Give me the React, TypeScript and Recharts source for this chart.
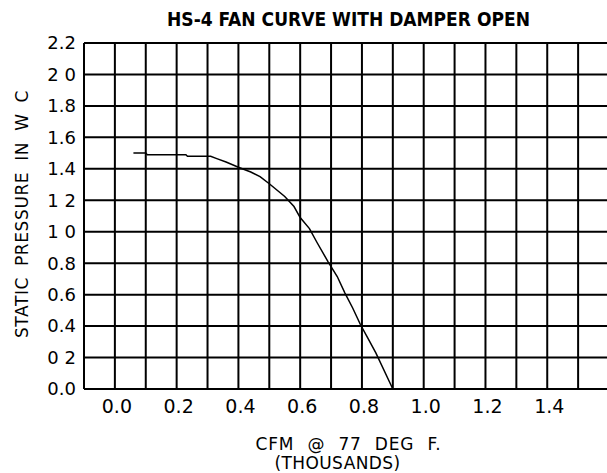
import { LineChart, Line, XAxis, YAxis, CartesianGrid } from 'recharts'

// fan curve (CFM in thousands vs. static pressure, in. W.C.)
const cfm = [
  0.06, 0.1, 0.105, 0.23, 0.235, 0.31, 0.33, 0.36, 0.4, 0.44, 0.47, 0.5, 0.55, 0.58, 0.6, 0.63,
  0.655, 0.69, 0.72, 0.745, 0.77, 0.795, 0.82, 0.845, 0.9,
]
const pressure = [
  1.5, 1.5, 1.49, 1.49, 1.48, 1.48, 1.465, 1.443, 1.41, 1.38, 1.35, 1.305, 1.224, 1.16, 1.09, 1.02,
  0.93, 0.81, 0.715, 0.61, 0.515, 0.41, 0.32, 0.23, 0.0,
]

const xTicks = [-0.1, 0, 0.1, 0.2, 0.3, 0.4, 0.5, 0.6, 0.7, 0.8, 0.9, 1.0, 1.1, 1.2, 1.3, 1.4, 1.5, 1.6]
const xLabels = ['0.0', '0.2', '0.4', '0.6', '0.8', '1.0', '1.2', '1.4']
const yTicks = [0, 0.2, 0.4, 0.6, 0.8, 1.0, 1.2, 1.4, 1.6, 1.8, 2.0, 2.2]
// the drawing lost some of its decimal points, kept as shown
const yLabels = ['0.0', '0 2', '0.4', '0.6', '0.8', '1 0', '1 2', '1.4', '1.6', '1.8', '2 0', '2.2']

const data = cfm.map((x, i) => ({ x, p: pressure[i] }))

const font = '"DejaVu Sans", sans-serif'

export default function App() {
  return (
    <div
      style={{
        position: 'fixed',
        top: 0,
        left: 0,
        width: 607,
        height: 473,
        overflow: 'hidden',
        background: '#fff',
        fontFamily: font,
      }}
    >
      <div
        style={{
          position: 'absolute',
          top: 8,
          left: 0,
          width: 697,
          textAlign: 'center',
          fontFamily: '"DejaVu Sans Condensed", "DejaVu Sans", sans-serif',
          fontWeight: 'bold',
          fontSize: 19,
          whiteSpace: 'nowrap',
        }}
      >
        HS-4 FAN CURVE WITH DAMPER OPEN
      </div>

      <LineChart width={640} height={473} data={data} margin={{ top: 43, right: 31, bottom: 0, left: 0 }}>
        <CartesianGrid stroke="#000" strokeWidth={2} />
        <XAxis
          type="number"
          dataKey="x"
          domain={[-0.1, 1.6]}
          ticks={xTicks}
          interval={0}
          allowDataOverflow
          height={84}
          axisLine={false}
          tickLine={false}
          tickSize={0}
          tickMargin={11}
          tick={{ fill: '#000', fontSize: 19, fontFamily: font, dx: 2 }}
          tickFormatter={(v: number) => {
            const s = v.toFixed(1)
            return xLabels.includes(s) && v >= 0 ? s : ''
          }}
        />
        <YAxis
          type="number"
          domain={[0, 2.2]}
          ticks={yTicks}
          interval={0}
          width={84}
          axisLine={false}
          tickLine={false}
          tickSize={0}
          tickMargin={8}
          tick={{ fill: '#000', fontSize: 18, fontFamily: font }}
          tickFormatter={(v: number) => yLabels[Math.round(v * 5)]}
        />
        <Line
          type="linear"
          dataKey="p"
          stroke="#000"
          strokeWidth={1.5}
          dot={false}
          isAnimationActive={false}
        />
      </LineChart>

      <div
        style={{
          position: 'absolute',
          left: 22,
          top: 214,
          transform: 'translate(-50%, -50%) rotate(-90deg)',
          fontSize: 17,
          letterSpacing: 0.6,
          wordSpacing: 5,
          whiteSpace: 'nowrap',
        }}
      >
        STATIC PRESSURE IN W C
      </div>

      <div
        style={{
          position: 'absolute',
          top: 435,
          left: 0,
          width: 697,
          textAlign: 'center',
          fontSize: 17,
          lineHeight: '19px',
          whiteSpace: 'nowrap',
        }}
      >
        <div style={{ wordSpacing: 7, letterSpacing: 0.8 }}>CFM @ 77 DEG F.</div>
        <div style={{ marginLeft: -22, letterSpacing: 0.4 }}>(THOUSANDS)</div>
      </div>
    </div>
  )
}
